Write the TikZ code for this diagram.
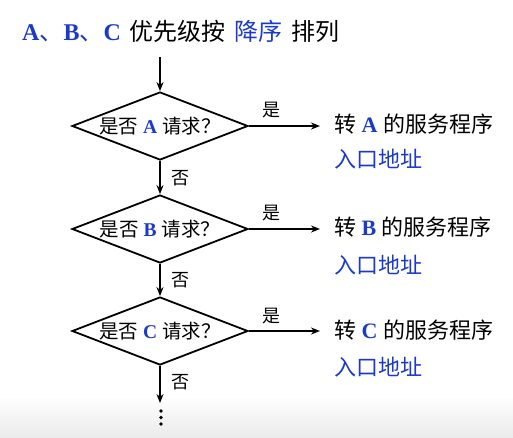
\documentclass[tikz,border=0pt]{standalone}
\usepackage{fontspec}
\setmainfont{Liberation Serif}
\newfontfamily\cjk{Noto Sans CJK SC}
\usetikzlibrary{shapes.geometric,arrows.meta}
\definecolor{tblue}{RGB}{28,58,200}
\tikzset{
  dec/.style={diamond,draw,line width=1.8pt,aspect=2.6,minimum width=176pt,minimum height=68pt,inner sep=0pt,
    font=\fontsize{19.5}{22}\selectfont},
  flow/.style={line width=1.8pt,-{Stealth[length=9pt,width=7pt]}},
  lab/.style={font=\cjk\fontsize{18}{20}\selectfont,inner sep=0pt},
  tgt/.style={anchor=west,inner sep=0pt,font=\fontsize{22}{24}\selectfont},
  addr/.style={anchor=west,inner sep=0pt,text=tblue,font=\cjk\fontsize{22}{24}\selectfont},
  dotm/.style={fill=black},
}
\newcommand{\bl}[1]{\textcolor{tblue}{\textbf{#1}}}
\begin{document}
\begin{tikzpicture}[x=1pt,y=-1pt]
\useasboundingbox (0,0) rectangle (513,437);
\shade[top color=white,bottom color=black!8] (0,395) rectangle (513,437);
% title
\node[anchor=west,inner sep=0pt,font=\fontsize{24}{27}\selectfont] (title) at (22,31)
  {\textcolor{tblue}{\textbf{A}\cjk 、\rmfamily\textbf{B}\cjk 、\rmfamily\textbf{C}}\hspace{3pt} {\cjk 优先级按}\hspace{3pt} \textcolor{tblue}{\cjk 降序}\hspace{3pt} {\cjk 排列}};
\coordinate (start) at (160,57);
% diamonds
\node[dec] (da) at (160,126) {{\cjk 是否} \bl{A} {\cjk 请求？}};
\node[dec] (db) at (160,229) {{\cjk 是否} \bl{B} {\cjk 请求？}};
\node[dec] (dc) at (160,331) {{\cjk 是否} \bl{C} {\cjk 请求？}};
\coordinate (end) at (160,403);
% targets
\node[tgt] (ta) at (334,124) {{\cjk 转} \bl{A} {\cjk 的服务程序}};
\node[addr] (aa) at (334,159) {入口地址};
\node[tgt] (tb) at (334,227) {{\cjk 转} \bl{B} {\cjk 的服务程序}};
\node[addr] (ab) at (334,265) {入口地址};
\node[tgt] (tc) at (334,330) {{\cjk 转} \bl{C} {\cjk 的服务程序}};
\node[addr] (ac) at (334,367) {入口地址};
% connectors
\draw[flow] (start) -- (da.north);
\draw[flow] (da.south) -- (db.north);
\draw[flow] (db.south) -- (dc.north);
\draw[flow] (dc.south) -- (end);
\draw[flow] (da.east) -- ([xshift=-14pt]ta.west |- da.east);
\draw[flow] (db.east) -- ([xshift=-14pt]tb.west |- db.east);
\draw[flow] (dc.east) -- ([xshift=-14pt]tc.west |- dc.east);
% labels
\node[lab] (ya) at (271,110) {是};
\node[lab] (yb) at (271,213) {是};
\node[lab] (yc) at (271,316) {是};
\node[lab] (na) at (180,178) {否};
\node[lab] (nb) at (180,280) {否};
\node[lab] (nc) at (180,382) {否};
% dots
\fill[dotm] (161,411) circle (1.9);
\fill[dotm] (161,417.5) circle (1.9);
\fill[dotm] (161,424) circle (1.9);
\end{tikzpicture}
\end{document}
